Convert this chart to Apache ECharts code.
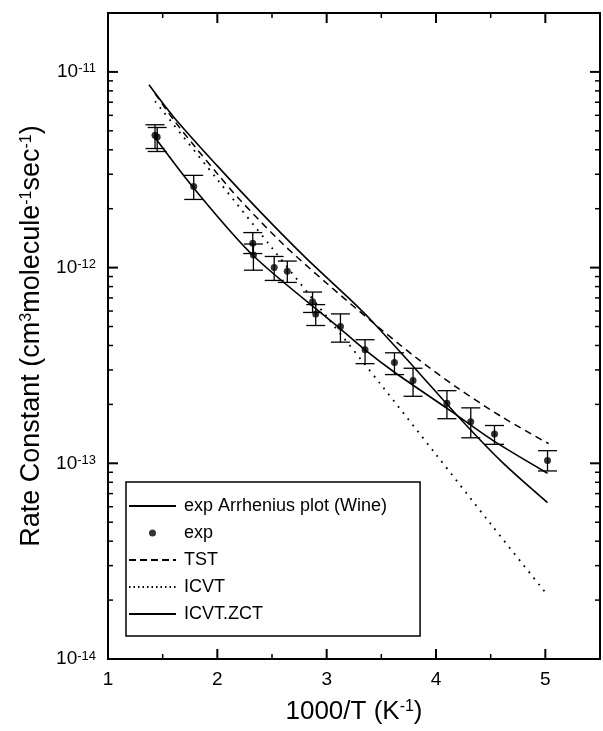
<!DOCTYPE html>
<html><head><meta charset="utf-8">
<script src="https://cdn.jsdelivr.net/npm/echarts@6/dist/echarts.min.js"></script>
<style>html,body{margin:0;padding:0;background:#fff}#c{width:603px;height:731px}</style>
</head><body><div id="c"></div>
<script>
// ---- data ----
const expX  = [1.43, 1.45, 1.784, 2.324, 2.33, 2.52, 2.64, 2.871, 2.90, 3.126, 3.351, 3.62, 3.79, 4.10, 4.318, 4.535, 5.02];
const expK  = [4.75e-12, 4.65e-12, 2.60e-12, 1.33e-12, 1.16e-12, 1.00e-12, 0.957e-12, 6.7e-13, 5.8e-13, 5.0e-13, 3.8e-13, 3.27e-13, 2.65e-13, 2.03e-13, 1.63e-13, 1.41e-13, 1.035e-13];
const expLo = [4.06e-12, 3.92e-12, 2.23e-12, 1.18e-12, 0.97e-12, 0.86e-12, 0.84e-12, 5.9e-13, 5.06e-13, 4.16e-13, 3.23e-13, 2.84e-13, 2.20e-13, 1.69e-13, 1.35e-13, 1.25e-13, 0.914e-13];
const expHi = [5.37e-12, 5.20e-12, 2.96e-12, 1.51e-12, 1.32e-12, 1.14e-12, 1.08e-12, 7.5e-13, 6.47e-13, 5.8e-13, 4.28e-13, 3.67e-13, 3.06e-13, 2.35e-13, 1.92e-13, 1.56e-13, 1.16e-13];

const arrX = [1.43, 1.784, 2.33, 3.11, 3.351, 3.62, 4.13, 4.52, 5.02];
const arrK = [4.62e-12, 2.55e-12, 1.15e-12, 4.95e-13, 3.8e-13, 2.92e-13, 1.86e-13, 1.31e-13, 8.9e-14];

const tstX = [1.43, 1.6, 1.8, 2.0, 2.2, 2.6, 3.0, 3.4, 3.8, 4.2, 4.6, 5.03];
const tstK = [7.76e-12, 5.69e-12, 4.12e-12, 3.02e-12, 2.24e-12, 1.32e-12, 8.32e-13, 5.37e-13, 3.53e-13, 2.42e-13, 1.73e-13, 1.26e-13];

const icvtX = [1.43, 2.0, 2.5, 3.0, 3.5, 4.0, 4.5, 5.02];
const icvtK = [7.08e-12, 2.82e-12, 1.26e-12, 5.62e-13, 2.51e-13, 1.11e-13, 4.9e-14, 2.12e-14];

const zctX = [1.375, 1.6, 2.0, 2.4, 2.8, 3.2, 3.4, 3.8, 4.2, 4.6, 5.02];
const zctK = [8.59e-12, 5.89e-12, 3.31e-12, 1.91e-12, 1.135e-12, 7.0e-13, 5.43e-13, 3.09e-13, 1.74e-13, 1.02e-13, 6.3e-14];

const xMajorTicks = [1, 2, 3, 4, 5];
const xMinorTicks = [1.5, 2.5, 3.5, 4.5];
const yMajorTicks = [1e-14, 1e-13, 1e-12, 1e-11];
const yMinorTicks = [2e-14, 3e-14, 4e-14, 5e-14, 6e-14, 7e-14, 8e-14, 9e-14,
                     2e-13, 3e-13, 4e-13, 5e-13, 6e-13, 7e-13, 8e-13, 9e-13,
                     2e-12, 3e-12, 4e-12, 5e-12, 6e-12, 7e-12, 8e-12, 9e-12];

const legendNames = ['exp Arrhenius plot (Wine)', 'exp', 'TST', 'ICVT', 'ICVT.ZCT'];

// ---- chart ----
const FONT = '"Liberation Sans", Arial, Helvetica, sans-serif';
const BLACK = '#000';
const pairs = (xs, ys) => xs.map((x, i) => [x, ys[i]]);

const tickData = [].concat(
  xMajorTicks.map(v => [v, yMajorTicks[0], 0]),
  xMinorTicks.map(v => [v, yMajorTicks[0], 1]),
  yMajorTicks.map(v => [xMajorTicks[0], v, 2]),
  yMinorTicks.map(v => [xMajorTicks[0], v, 3])
);

function renderTick(params, api) {
  const cs = params.coordSys;
  const kind = api.value(2);
  const major = (kind === 0 || kind === 2);
  const L = major ? 10 : 5;
  const st = { stroke: BLACK, lineWidth: major ? 2 : 1.5 };
  if (kind < 2) {
    const px = api.coord([api.value(0), api.value(1)])[0];
    const yb = cs.y + cs.height, yt = cs.y;
    return { type: 'group', children: [
      { type: 'line', shape: { x1: px, y1: yb, x2: px, y2: yb - L }, style: st },
      { type: 'line', shape: { x1: px, y1: yt, x2: px, y2: yt + L }, style: st }
    ]};
  } else {
    const py = api.coord([api.value(0), api.value(1)])[1];
    const xl = cs.x, xr = cs.x + cs.width;
    return { type: 'group', children: [
      { type: 'line', shape: { x1: xl, y1: py, x2: xl + L, y2: py }, style: st },
      { type: 'line', shape: { x1: xr, y1: py, x2: xr - L, y2: py }, style: st }
    ]};
  }
}

function renderErr(params, api) {
  const x = api.value(0);
  const p1 = api.coord([x, api.value(1)]);
  const p2 = api.coord([x, api.value(2)]);
  const w = 9.5;
  const st = { stroke: BLACK, lineWidth: 1.3 };
  return { type: 'group', children: [
    { type: 'line', shape: { x1: p1[0], y1: p1[1], x2: p2[0], y2: p2[1] }, style: st },
    { type: 'line', shape: { x1: p1[0] - w, y1: p1[1], x2: p1[0] + w, y2: p1[1] }, style: st },
    { type: 'line', shape: { x1: p2[0] - w, y1: p2[1], x2: p2[0] + w, y2: p2[1] }, style: st }
  ]};
}

const supRich = (size) => ({ s: { fontSize: size, fontFamily: FONT, color: BLACK, verticalAlign: 'top' } });
const noSym = { opacity: 0 };

const option = {
  animation: false,
  backgroundColor: '#fff',
  grid: { left: 108, right: -5, top: 13, bottom: 72, show: true, borderColor: BLACK, borderWidth: 2, backgroundColor: 'transparent' },
  legend: {
    data: [
      { name: legendNames[0], itemStyle: noSym },
      { name: legendNames[1] },
      { name: legendNames[2], itemStyle: noSym, lineStyle: { type: [7, 4] } },
      { name: legendNames[3], itemStyle: noSym, lineStyle: { type: [1.5, 3] } },
      { name: legendNames[4], itemStyle: noSym }
    ],
    orient: 'vertical', left: 126, top: 482,
    padding: [15, 33, 13, 2],
    itemGap: 9, itemWidth: 47, itemHeight: 7,
    borderColor: BLACK, borderWidth: 1.5, backgroundColor: '#fff',
    textStyle: { fontSize: 18, fontFamily: FONT, color: BLACK, padding: [0, 0, 0, 3] },
    selectedMode: false
  },
  xAxis: {
    type: 'value', min: 1, max: 5.5, interval: 1,
    axisLine: { show: false }, axisTick: { show: false }, splitLine: { show: false },
    axisLabel: { margin: 11, fontSize: 19, fontFamily: FONT, color: BLACK,
      formatter: v => (Math.abs(v - Math.round(v)) < 1e-9 && v <= 5) ? String(Math.round(v)) : '' },
    name: '1000/T (K{s|-1})', nameLocation: 'middle', nameGap: 40,
    nameTextStyle: { fontSize: 26, fontFamily: FONT, color: BLACK, rich: supRich(16) }
  },
  yAxis: {
    type: 'log', logBase: 10, min: 1e-14, max: 2e-11,
    axisLine: { show: false }, axisTick: { show: false }, splitLine: { show: false }, minorTick: { show: false },
    axisLabel: { margin: 12, color: BLACK,
      formatter: v => { const e = Math.log10(v); const r = Math.round(e);
        return Math.abs(e - r) < 1e-6 ? '{b|10}{s|' + r + '}' : ''; },
      rich: { b: { fontSize: 19, fontFamily: FONT, color: BLACK }, s: { fontSize: 13, fontFamily: FONT, color: BLACK, verticalAlign: 'top' } } },
    name: 'Rate Constant (cm{s|3}molecule{s|-1}sec{s|-1})', nameLocation: 'middle', nameRotate: 90, nameGap: 55,
    nameTextStyle: { fontSize: 27, fontFamily: FONT, color: BLACK, rich: supRich(16) }
  },
  series: [
    { name: legendNames[0], type: 'line', data: pairs(arrX, arrK), smooth: 0.3, symbol: 'none',
      lineStyle: { color: BLACK, width: 1.6, type: 'solid' }, itemStyle: { color: BLACK }, z: 3 },
    { name: legendNames[1], type: 'scatter', data: pairs(expX, expK), symbol: 'circle', symbolSize: 7,
      itemStyle: { color: BLACK }, z: 5 },
    { name: legendNames[2], type: 'line', data: pairs(tstX, tstK), smooth: 0.3, symbol: 'none',
      lineStyle: { color: BLACK, width: 1.5, type: [7, 5] }, itemStyle: { color: BLACK }, z: 3 },
    { name: legendNames[3], type: 'line', data: pairs(icvtX, icvtK), smooth: 0.3, symbol: 'none',
      lineStyle: { color: BLACK, width: 1.8, type: [1.8, 6] }, itemStyle: { color: BLACK }, z: 3 },
    { name: legendNames[4], type: 'line', data: pairs(zctX, zctK), smooth: 0.3, symbol: 'none',
      lineStyle: { color: BLACK, width: 1.6, type: 'solid' }, itemStyle: { color: BLACK }, z: 3 },
    { name: 'errorbars', type: 'custom', renderItem: renderErr, encode: { x: 0, y: [1, 2] },
      data: expX.map((x, i) => [x, expLo[i], expHi[i]]), z: 4, silent: true },
    { name: 'ticks', type: 'custom', renderItem: renderTick, encode: { x: 0, y: 1 },
      data: tickData, clip: false, z: 6, silent: true }
  ]
};
const chart = echarts.init(document.getElementById('c'));
chart.setOption(option);
</script>
</body></html>
